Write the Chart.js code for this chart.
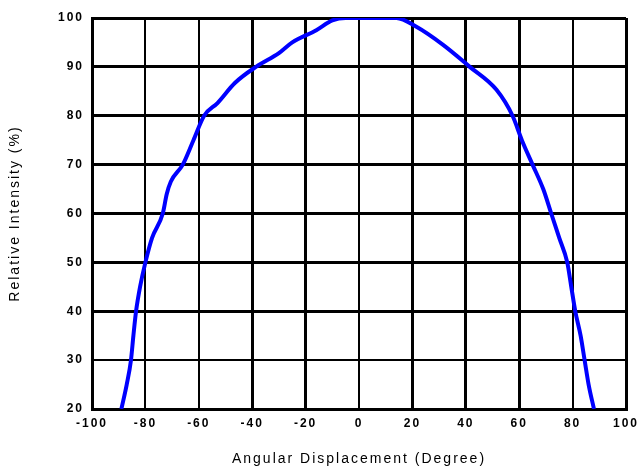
<!doctype html>
<html lang="en">
    <head>
        <meta charset="utf-8">
        <title>Relative Intensity vs Angular Displacement</title>
        <script src="https://cdn.jsdelivr.net/npm/chart.js@4/dist/chart.umd.min.js"></script>
        <style>
            html, body { margin: 0; padding: 0; background: #fff; }
            #wrap { width: 637px; height: 470px; }
        </style>
    </head>

    <body>
        <div id="wrap"><canvas id="myChart" width="637" height="470"></canvas></div>
        <script type="text/javascript">
            // values
            var angles = [-89, -87, -85.4, -84.5, -83.5, -82, -80, -77.5, -73.5, -72, -70.5, -66, -62, -58, -53, -46.5, -38.6, -30, -25, -16, -10, -5, 0, 10, 14, 21.5, 31.5, 41.5, 51.5, 57.5, 61, 65, 69, 72, 75, 78, 79.5, 81, 83, 84.5, 86, 88];
            var intensity = [20, 25, 30, 35, 40, 45, 50, 55, 60, 64, 66.5, 70, 75, 80, 82.6, 86.7, 90, 92.8, 95, 97.5, 99.5, 100, 100, 100, 100, 98.2, 94.5, 90, 85.3, 80, 75, 70, 65, 60, 55, 50, 45, 40, 35, 30, 25, 20];
            var xTicks = [-100, -80, -60, -40, -20, 0, 20, 40, 60, 80, 100];
            var yTicks = [20, 30, 40, 50, 60, 70, 80, 90, 100];
            var thinX = [-80, -60, 0, 80];
            var thinY = [30];

            var points = angles.map(function(a, i){ return {x: a, y: intensity[i]}; });

            // the old plot has widely spaced letters
            var spacing = {
                id: "spacing",
                beforeUpdate: function(chart){ chart.ctx.letterSpacing = "2px"; },
                beforeDraw: function(chart){ chart.ctx.letterSpacing = "2px"; }
            };

            var ctx = document.getElementById("myChart").getContext("2d");
            var myNewChart = new Chart(ctx, {
                type: "line",
                plugins: [spacing],
                data: {
                    datasets: [{
                        data: points,
                        borderColor: "#0000ff",
                        borderWidth: 4,
                        pointRadius: 0,
                        cubicInterpolationMode: "monotone",
                        fill: false
                    }]
                },
                options: {
                    responsive: false,
                    animation: false,
                    layout: { padding: { top: 18, right: 11, left: 0, bottom: 0 } },
                    plugins: { legend: { display: false }, tooltip: { enabled: false } },
                    scales: {
                        x: {
                            type: "linear",
                            min: -100, max: 100,
                            afterBuildTicks: function(s){ s.ticks = xTicks.map(function(v){ return {value: v}; }); },
                            afterFit: function(s){ s.height = 61; s.paddingLeft = 0; s.paddingRight = 0; },
                            grid: {
                                color: "#000",
                                drawTicks: false,
                                lineWidth: function(c){ return thinX.indexOf(c.tick.value) >= 0 ? 2 : 3; }
                            },
                            border: { color: "#000", width: 3 },
                            ticks: { color: "#000", padding: 7, maxRotation: 0, font: { family: "Liberation Sans", size: 12, weight: "bold" } },
                            title: { display: true, text: "Angular Displacement (Degree)", color: "#000", padding: { top: 0, bottom: 2 }, font: { family: "Liberation Sans", size: 14 } }
                        },
                        y: {
                            min: 20, max: 100,
                            afterBuildTicks: function(s){ s.ticks = yTicks.map(function(v){ return {value: v}; }); },
                            afterFit: function(s){ s.width = 92; },
                            grid: {
                                color: "#000",
                                drawTicks: false,
                                lineWidth: function(c){ return thinY.indexOf(c.tick.value) >= 0 ? 2 : 3; }
                            },
                            border: { color: "#000", width: 3 },
                            ticks: { color: "#000", padding: 8, font: { family: "Liberation Sans", size: 12, weight: "bold" } },
                            title: { display: true, text: "Relative Intensity (%)", color: "#000", padding: { top: 7, bottom: 0 }, font: { family: "Liberation Sans", size: 14 } }
                        }
                    }
                }
            });
        </script>
    </body>
</html>
